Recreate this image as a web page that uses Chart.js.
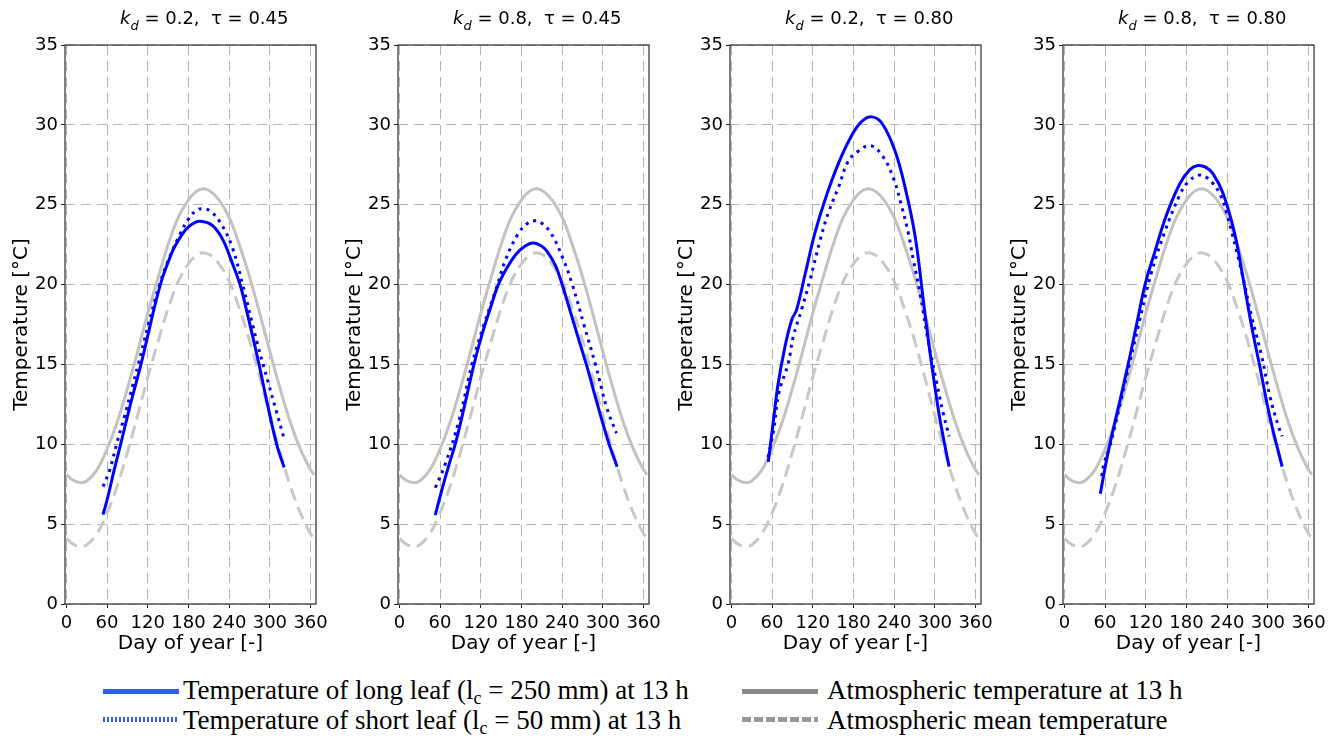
<!DOCTYPE html>
<html>
<head>
<meta charset="utf-8">
<script src="https://cdn.jsdelivr.net/npm/chart.js@4.4.0/dist/chart.umd.min.js"></script>
<style>
    body { margin: 0; background: #fff; width: 1338px; height: 742px; overflow: hidden; position: relative; font-family: "DejaVu Sans", sans-serif; }
    canvas { position: absolute; top: 0; }
    .ttl { position: absolute; top: 9px; font-size: 18px; line-height: 18px; white-space: nowrap; color: #000; }
    .ttl sub { font-size: 13px; vertical-align: -6px; line-height: 0; }
    .leg { position: absolute; font-family: "Liberation Serif", serif; font-size: 27px; line-height: 27px; white-space: nowrap; color: #000; }
    .leg sub { font-size: 18px; vertical-align: -5px; line-height: 0; }
    .smp { position: absolute; height: 5px; }
</style>
</head>
<body>
<script>
// Axis ticks
const dayTicks = [0, 60, 120, 180, 240, 300, 360];

// Panel titles
const panelKd = ['0.2', '0.8', '0.2', '0.8'];
const panelTau = ['0.45', '0.45', '0.80', '0.80'];

// Atmospheric temperatures (same in every panel)
const atmDays = [0, 10, 20, 30, 45, 60, 75, 90, 105, 120, 135, 150, 165, 180, 192, 202, 212, 225, 240, 255, 270, 285, 300, 315, 330, 345, 360, 365];
const atm13h = [8.1, 7.75, 7.6, 7.7, 8.4, 9.7, 11.4, 13.5, 15.8, 18.2, 20.4, 22.5, 24.2, 25.3, 25.85, 26.0, 25.85, 25.3, 24.2, 22.5, 20.5, 18.2, 15.8, 13.5, 11.4, 9.7, 8.4, 8.1];
const atmMean = [4.1, 3.75, 3.6, 3.7, 4.4, 5.7, 7.4, 9.5, 11.8, 14.2, 16.4, 18.5, 20.2, 21.3, 21.85, 22.0, 21.85, 21.3, 20.2, 18.5, 16.5, 14.2, 11.8, 9.5, 7.4, 5.7, 4.4, 4.1];

// kd = 0.2, tau = 0.45
const longDays1 = [54, 60, 70, 80, 95, 110, 120, 130, 140, 150, 160, 177, 190, 200, 212, 222, 232, 241, 256, 265, 275, 284, 297, 310, 321];
const longTemp1 = [5.6, 6.5, 8.3, 10.0, 12.6, 15.0, 16.8, 18.6, 20.2, 21.4, 22.4, 23.5, 23.9, 23.95, 23.8, 23.4, 22.7, 21.75, 20.0, 18.5, 16.7, 15.0, 12.4, 10.0, 8.55];
const shortDays1 = [54, 64, 74, 86, 96, 106, 121, 138, 153, 168, 180, 192, 202, 212, 226, 244, 261, 281, 298, 310, 320];
const shortTemp1 = [7.35, 8.4, 10.0, 11.8, 13.4, 15.0, 17.5, 20.1, 21.8, 23.2, 24.1, 24.65, 24.75, 24.6, 23.95, 22.4, 19.8, 16.4, 13.8, 12.0, 10.5];

// kd = 0.8, tau = 0.45
const longDays2 = [53, 63, 73, 83, 96, 110, 122, 134, 145, 158, 172, 185, 197, 210, 218, 230, 240, 250, 262, 277, 290, 300, 310, 321];
const longTemp2 = [5.57, 7.2, 8.7, 10.1, 12.4, 15.0, 16.9, 18.5, 19.9, 21.0, 21.9, 22.4, 22.6, 22.4, 22.06, 21.2, 20.0, 18.6, 16.9, 14.8, 12.8, 11.3, 9.9, 8.6];
const shortDays2 = [53, 68, 88, 107, 124, 144, 156, 174, 188, 200, 208, 223, 240, 255, 272, 289, 306, 320];
const shortTemp2 = [7.28, 8.8, 11.5, 15.0, 17.4, 19.9, 21.5, 23.1, 23.8, 24.0, 23.9, 23.25, 21.75, 20.0, 17.5, 15.0, 12.25, 10.7];

// kd = 0.2, tau = 0.80
const longDays3 = [54.5, 62, 69, 79, 89, 96, 109, 123, 138, 158, 177, 192, 207, 222, 241, 256, 271, 283, 293, 305, 313, 321];
const longTemp3 = [8.9, 11.5, 13.8, 16.1, 17.8, 18.4, 20.7, 23.2, 25.3, 27.6, 29.3, 30.2, 30.5, 30.1, 28.4, 26.1, 23.0, 19.0, 15.7, 12.2, 10.3, 8.6];
const shortDays3 = [54, 62, 70, 84, 91, 104, 116, 131, 143, 158, 172, 187, 205, 222, 239, 251, 261, 268, 278, 290, 303, 312, 321];
const shortTemp3 = [9.2, 10.8, 13.2, 15.1, 16.7, 18.5, 20.3, 22.8, 24.5, 26.1, 27.7, 28.35, 28.7, 28.1, 26.65, 24.9, 23.2, 21.6, 19.5, 16.5, 13.8, 12.0, 10.5];

// kd = 0.8, tau = 0.80
const longDays4 = [53, 64, 79, 94, 106, 119, 133, 150, 170, 185, 197, 208, 219, 234, 251, 263, 276, 288, 303, 321];
const longTemp4 = [6.9, 9.4, 12.2, 15.0, 17.4, 20.0, 22.0, 24.3, 26.3, 27.2, 27.45, 27.35, 26.95, 25.7, 23.2, 20.5, 17.4, 14.9, 11.7, 8.6];
const shortDays4 = [55, 59, 67, 88, 109, 128, 148, 170, 182, 198, 210, 217, 229, 239, 263, 276, 291, 303, 315, 321];
const shortTemp4 = [8.0, 8.9, 9.85, 13.6, 17.4, 20.7, 23.3, 25.6, 26.4, 26.85, 26.7, 26.44, 25.7, 24.5, 20.5, 18.0, 15.5, 13.0, 11.2, 10.5];

const panels = [
    { long: [longDays1, longTemp1], short: [shortDays1, shortTemp1] },
    { long: [longDays2, longTemp2], short: [shortDays2, shortTemp2] },
    { long: [longDays3, longTemp3], short: [shortDays3, shortTemp3] },
    { long: [longDays4, longTemp4], short: [shortDays4, shortTemp4] }
];
const canvasLeft = [0, 333, 665, 998];

function toPoints(days, vals) {
    return days.map((d, i) => ({ x: d, y: vals[i] }));
}

// box around the plot area
const framePlugin = {
    id: 'frame',
    afterDraw(chart) {
        const { ctx, chartArea: a } = chart;
        ctx.save();
        ctx.strokeStyle = '#3a3a3a';
        ctx.lineWidth = 1.3;
        ctx.strokeRect(a.left, a.top, a.right - a.left, a.bottom - a.top);
        ctx.restore();
    }
};

const tickFont = { family: 'DejaVu Sans', size: 18 };
const titleFont = { family: 'DejaVu Sans', size: 20 };

panels.forEach((p, i) => {
    const cv = document.createElement('canvas');
    cv.width = 336;
    cv.height = 660;
    cv.style.left = canvasLeft[i] + 'px';
    document.body.appendChild(cv);

    const ttl = document.createElement('div');
    ttl.className = 'ttl';
    ttl.style.left = (canvasLeft[i] + 120) + 'px';
    ttl.innerHTML = '<i>k</i><sub><i>d</i></sub> = ' + panelKd[i] + ',&nbsp;&nbsp;τ = ' + panelTau[i];
    document.body.appendChild(ttl);

    new Chart(cv, {
        type: 'line',
        data: {
            datasets: [
                { data: toPoints(p.long[0], p.long[1]), borderColor: '#0000ff', borderWidth: 3 },
                { data: toPoints(p.short[0], p.short[1]), borderColor: '#0000ff', borderWidth: 3, borderDash: [3, 5] },
                { data: toPoints(atmDays, atm13h), borderColor: '#c2c2c2', borderWidth: 3 },
                { data: toPoints(atmDays, atmMean), borderColor: '#c8c8c8', borderWidth: 3, borderDash: [13, 7] }
            ]
        },
        options: {
            responsive: false,
            animation: false,
            devicePixelRatio: 1,
            layout: { padding: { top: 45, right: 20, left: 0, bottom: 0 } },
            elements: {
                point: { radius: 0 },
                line: { tension: 0.4, fill: false }
            },
            plugins: { legend: { display: false }, tooltip: { enabled: false } },
            scales: {
                x: {
                    type: 'linear',
                    min: -2,
                    max: 368,
                    afterBuildTicks: s => { s.ticks = dayTicks.map(v => ({ value: v })); },
                    afterFit: s => { s.height = 56; },
                    ticks: { font: tickFont, color: '#000', padding: 5, maxRotation: 0, autoSkip: false },
                    grid: { color: '#b4b4b4', lineWidth: 1, tickColor: '#222', tickLength: 4, tickWidth: 1 },
                    border: { display: false, dash: [10, 6] },
                    title: { display: true, text: 'Day of year [-]', font: titleFont, color: '#000', padding: { top: 0, bottom: 4 } }
                },
                y: {
                    min: 0,
                    max: 35,
                    afterFit: s => { s.width = 65; },
                    ticks: { stepSize: 5, font: tickFont, color: '#000', padding: 3 },
                    grid: { color: '#b4b4b4', lineWidth: 1, tickColor: '#222', tickLength: 4, tickWidth: 1 },
                    border: { display: false, dash: [10, 6] },
                    title: { display: true, text: 'Temperature [°C]', font: titleFont, color: '#000', padding: { top: 10, bottom: 0 } }
                }
            }
        },
        plugins: [framePlugin]
    });
});

// legend
const legendRows = [
    { left: 103, top: 689, css: 'background:#2f5cff', textLeft: 183, textTop: 677, html: 'Temperature of long leaf (l<sub>c</sub> = 250 mm) at 13 h' },
    { left: 103, top: 717, css: 'background:repeating-linear-gradient(90deg,#2f5cff 0 2px,transparent 2px 4px)', textLeft: 183, textTop: 707, html: 'Temperature of short leaf (l<sub>c</sub> = 50 mm) at 13 h' },
    { left: 742, top: 689, css: 'background:#8a8a8a', textLeft: 827, textTop: 677, html: 'Atmospheric temperature at 13 h' },
    { left: 742, top: 717, css: 'background:repeating-linear-gradient(90deg,#999 0 9px,transparent 9px 12px)', textLeft: 827, textTop: 707, html: 'Atmospheric mean temperature' }
];
legendRows.forEach(r => {
    const s = document.createElement('div');
    s.className = 'smp';
    s.style.cssText = 'left:' + r.left + 'px;top:' + r.top + 'px;width:76px;' + r.css;
    document.body.appendChild(s);
    const t = document.createElement('div');
    t.className = 'leg';
    t.style.left = r.textLeft + 'px';
    t.style.top = r.textTop + 'px';
    t.innerHTML = r.html;
    document.body.appendChild(t);
});
</script>
</body>
</html>
